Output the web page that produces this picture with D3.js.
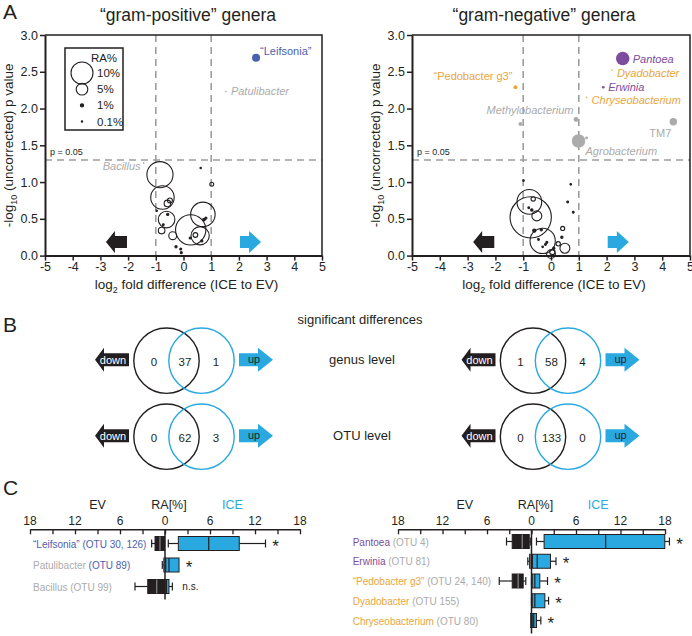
<!DOCTYPE html>
<html><head><meta charset="utf-8">
<script src="https://cdn.jsdelivr.net/npm/d3@7"></script>
<style>
body{margin:0;background:#fff;}
svg text{font-family:"Liberation Sans", Arial, Helvetica, sans-serif;}
</style></head><body>
<svg id="c" width="692" height="636"></svg>
<script>
// ---------------- DATA ----------------
const xTicks = [-5,-4,-3,-2,-1,0,1,2,3,4,5];
const yTicks = [0,0.5,1,1.5,2,2.5,3];
const foldCut = [-1, 1];
const pCut = -Math.log10(0.05);
const legendRA = [10, 5, 1, 0.1];
const legendLabels = ["10%", "5%", "1%", "0.1%"];

// [log2 fold, -log10 p, RA%]
const posBubbles = [
  [-0.85,1.10,12.0],[-0.76,0.79,10.7],[-0.61,0.49,7.4],[0.26,0.35,14.0],[0.70,0.56,11.2],
  [0.60,0.27,8.2],[-0.39,0.27,3.2],[-0.79,0.34,2.6],[-0.58,0.71,2.6],[-0.49,0.75,1.8],
  [0.43,0.28,1.7],[1.02,0.97,1.3],
  [0.62,1.19,0.1],[-0.97,0.61,0.2],[-0.57,0.56,0.5],[-0.73,0.42,0.3],[-0.27,0.12,0.5],
  [-0.10,0.09,0.4],[-0.08,0.04,0.4],[0.74,0.49,0.7],[0.81,0.51,0.4],[0.24,0.24,0.4],[0.66,0.20,0.5]
];
// [name, fold, p, RA, group]
const posHighlights = [
  ["\u201cLeifsonia\u201d", 2.62, 2.69, 3.3, "leif"],
  ["Patulibacter", 1.53, 2.23, 0.2, "gray"],
  ["Bacillus", -1.44, 1.26, 0.3, "gray"]
];
const negBubbles = [
  [-0.78,0.73,11.3],[-0.73,0.52,19.3],[-0.51,0.54,4.2],[-0.30,0.20,11.6],[0.50,0.10,4.2],
  [0.00,0.02,3.6],[0.05,0.05,2.0],[-0.64,0.77,1.5],[0.42,0.37,1.4],[0.26,0.16,1.5],[0.39,0.25,0.5],
  [-0.99,1.02,0.2],[0.71,0.97,0.2],[0.60,0.73,0.3],[0.80,0.59,0.3],[-0.60,0.34,1.0],
  [-0.35,0.35,0.5],[-0.45,0.22,0.3],[-0.20,0.15,0.3],[-0.15,0.18,0.4],[-0.30,0.12,0.2],
  [0.10,0.10,0.5],[-0.80,0.65,0.3],[-0.69,0.62,0.6]
];
const negHighlights = [
  ["Pantoea", 2.58, 2.68, 5.9, "purple"],
  ["Dyadobacter", 2.19, 2.52, 0.1, "orange"],
  ["Erwinia", 1.88, 2.29, 0.7, "purple"],
  ["Chryseobacterium", 1.28, 2.15, 0.1, "orange"],
  ["\u201cPedobacter g3\u201d", -1.28, 2.29, 1.3, "orange"],
  ["", -1.10, 1.79, 1.3, "gray"],
  ["Methylobacterium", 0.90, 1.85, 1.8, "gray"],
  ["Agrobacterium", 0.99, 1.56, 5.9, "gray"],
  ["", 1.28, 1.60, 0.8, "gray"],
  ["TM7", 4.40, 1.82, 3.0, "gray"]
];

const vennLevels = ["genus level", "OTU level"];
const vennPos = [[0,37,1],[0,62,3]];   // [down only, shared, up only]
const vennNeg = [[1,58,4],[0,133,0]];

const cTicks = [-18,-15,-12,-9,-6,-3,0,3,6,9,12,15,18];
const cLabelTicks = [-18,-12,-6,0,6,12,18];
const cPosNames = ["\u201cLeifsonia\u201d", "Patulibacter", "Bacillus"];
const cPosOTU = ["(OTU 30, 126)", "(OTU 89)", "(OTU 99)"];
const cPosNameGroup = ["leif","gray","gray"];
const cPosOtuGroup = ["leif","leif","gray"];
// [whisker lo, q1, median, q3, whisker hi] in RA%
const cPosEV = [[0,0.05,0.67,1.33,1.78],[0,0,0.05,0.15,0.36],[0,0,1.1,2.3,4.0]];
const cPosICE = [[0.44,1.78,5.83,9.9,13.4],[0.05,0.1,0.53,1.87,1.87],[0,0,0.2,0.53,0.98]];
const cPosSig = ["*","*","n.s."];

const cNegNames = ["Pantoea","Erwinia","\u201cPedobacter g3\u201d","Dyadobacter","Chryseobacterium"];
const cNegOTU = ["(OTU 4)","(OTU 81)","(OTU 24, 140)","(OTU 155)","(OTU 80)"];
const cNegNameGroup = ["purple","purple","orange","orange","orange"];
const cNegOtuGroup = ["gray","gray","gray","gray","gray"];
const cNegEV = [[0.1,0.3,1.25,2.6,3.37],[0,0,0.1,0.25,0.5],[0.77,1.12,1.8,2.6,4.35],[0,0,0,0,0],[0,0,0.05,0.13,0.13]];
const cNegICE = [[0.67,1.7,10.0,17.97,18.6],[0.13,0.13,0.77,2.56,3.3],[0,0.1,0.45,1.12,2.16],[0,0.1,0.45,1.8,2.3],[0,0.1,0.3,0.67,1.26]];
const cNegSig = ["*","*","*","*","*"];

// ---------------- STYLE ----------------
const INK="#231f20", BLUE="#29a9e0", LEIF="#4b61ad", PURPLE="#7c4d9e", ORANGE="#eaa53b", GRAY="#ababab", DASH="#9d9d9d";
const groupColor = {leif:LEIF, purple:PURPLE, orange:ORANGE, gray:GRAY};
const labelLayout = {
  "\u201cLeifsonia\u201d": {dx:4, dy:-3, anchor:"start", italic:false},
  "Patulibacter": {dx:5, dy:3, anchor:"start", italic:true},
  "Bacillus": {dx:-3, dy:7, anchor:"end", italic:true},
  "Pantoea": {dx:10, dy:4, anchor:"start", italic:true},
  "Dyadobacter": {dx:5, dy:7, anchor:"start", italic:true},
  "Erwinia": {dx:5, dy:4, anchor:"start", italic:true},
  "Chryseobacterium": {dx:5, dy:6, anchor:"start", italic:true},
  "\u201cPedobacter g3\u201d": {dx:-3, dy:-7, anchor:"end", italic:false},
  "Methylobacterium": {dx:-46, dy:-6, anchor:"middle", italic:true},
  "Agrobacterium": {dx:7, dy:14, anchor:"start", italic:true},
  "TM7": {dx:-2, dy:15, anchor:"end", italic:false}
};
const rScale = d3.scaleLinear().domain([0,10]).range([0.6,11]);
const svg = d3.select("#c");

function arrowPath(tail, tip, cy, bh, hh, hl){
  const dir = Math.sign(tip-tail), base = tip - dir*hl;
  return `M${tail},${cy-bh}L${base},${cy-bh}L${base},${cy-hh}L${tip},${cy}L${base},${cy+hh}L${base},${cy+bh}L${tail},${cy+bh}Z`;
}

// ---------------- PANEL A ----------------
function volcano(o){
  const x = d3.scaleLinear().domain([-5,5]).range(o.xRange);
  const y = d3.scaleLinear().domain([0,3]).range([255.6,35]);
  const g = svg.append("g");
  g.selectAll("line.v").data(foldCut).join("line")
    .attr("x1",d=>x(d)).attr("x2",d=>x(d)).attr("y1",y(3)).attr("y2",y(0))
    .attr("stroke",DASH).attr("stroke-width",1.6).attr("stroke-dasharray","7,5");
  g.append("line").attr("x1",x(-5)).attr("x2",x(5)).attr("y1",y(pCut)).attr("y2",y(pCut))
    .attr("stroke",DASH).attr("stroke-width",1.6).attr("stroke-dasharray","7,5");
  g.append("text").attr("x",x(-5)+5).attr("y",y(pCut)-5).attr("font-size",9).attr("fill",INK).text("p = 0.05");
  g.append("path").attr("d",`M${x(-5)},${y(3)}H${x(5)}V${y(0)}`).attr("fill","none").attr("stroke",INK).attr("stroke-width",1.5);
  const ax = g.append("g").attr("transform",`translate(0,${y(0)})`)
    .call(d3.axisBottom(x).tickValues(xTicks).tickSize(5).tickSizeOuter(0).tickPadding(2).tickFormat(d=>String(d)));
  const ay = g.append("g").attr("transform",`translate(${x(-5)},0)`)
    .call(d3.axisLeft(y).tickValues(yTicks).tickSize(5).tickSizeOuter(0).tickPadding(2).tickFormat(d3.format(".1f")));
  [ax,ay].forEach(a=>{
    a.select(".domain").attr("stroke",INK).attr("stroke-width",2);
    a.selectAll(".tick line").attr("stroke",INK).attr("stroke-width",1.5);
    a.selectAll(".tick text").attr("font-size",12.5).attr("fill",INK);
  });
  // axis titles
  const xt = g.append("text").attr("x",(o.xRange[0]+o.xRange[1])/2+3).attr("y",289).attr("text-anchor","middle").attr("font-size",13.5).attr("fill",INK);
  xt.append("tspan").text("log");
  xt.append("tspan").attr("dy",4).attr("font-size",9).text("2");
  xt.append("tspan").attr("dy",-4).text(" fold difference (ICE to EV)");
  const yt = g.append("text").attr("transform",`translate(${x(-5)-32},${(y(0)+y(3))/2}) rotate(-90)`).attr("text-anchor","middle").attr("font-size",13.5).attr("fill",INK);
  yt.append("tspan").text("-log");
  yt.append("tspan").attr("dy",4).attr("font-size",9).text("10");
  yt.append("tspan").attr("dy",-4).text(" (uncorrected) p value");
  // title
  g.append("text").attr("x",o.titleX).attr("y",21).attr("text-anchor","middle").attr("font-size",17.5).attr("fill",INK).text(o.title);
  // arrows
  g.append("path").attr("d",arrowPath(x(-2.04),x(-2.8),y(0.185),6,11,9)).attr("fill",INK);
  g.append("path").attr("d",arrowPath(x(2.04),x(2.8),y(0.185),6,11,12)).attr("fill",BLUE);
  // bubbles
  g.selectAll("circle.b").data(o.bubbles).join("circle")
    .attr("cx",d=>x(d[0])).attr("cy",d=>y(d[1])).attr("r",d=>rScale(d[2]))
    .attr("fill",d=>rScale(d[2])<1.8?INK:"none").attr("stroke",INK).attr("stroke-width",1.1);
  g.selectAll("circle.h").data(o.highlights).join("circle")
    .attr("cx",d=>x(d[1])).attr("cy",d=>y(d[2])).attr("r",d=>rScale(d[3]))
    .attr("fill",d=>groupColor[d[4]]);
  g.selectAll("text.h").data(o.highlights.filter(d=>d[0])).join("text")
    .attr("x",d=>x(d[1])+labelLayout[d[0]].dx).attr("y",d=>y(d[2])+labelLayout[d[0]].dy)
    .attr("text-anchor",d=>labelLayout[d[0]].anchor)
    .attr("font-style",d=>labelLayout[d[0]].italic?"italic":"normal")
    .attr("font-size",11).attr("fill",d=>groupColor[d[4]]).text(d=>d[0]);
  return g;
}
volcano({xRange:[45,322], bubbles:posBubbles, highlights:posHighlights, title:"\u201cgram-positive\u201d genera", titleX:188});
volcano({xRange:[412,690], bubbles:negBubbles, highlights:negHighlights, title:"\u201cgram-negative\u201d genera", titleX:544});

// legend
const lg = svg.append("g");
lg.append("rect").attr("x",65).attr("y",48).attr("width",58).attr("height",82).attr("fill","#fff").attr("stroke",INK).attr("stroke-width",1.5);
lg.append("text").attr("x",104).attr("y",62).attr("text-anchor","middle").attr("font-size",11.5).attr("fill",INK).text("RA%");
const ly = d3.scalePoint().domain(legendRA).range([73,121.5]);
lg.selectAll("circle").data(legendRA).join("circle").attr("cx",82).attr("cy",d=>ly(d)).attr("r",d=>rScale(d))
  .attr("fill",d=>rScale(d)<1.8?INK:"none").attr("stroke",INK).attr("stroke-width",1.1);
lg.selectAll("text.l").data(legendRA).join("text").attr("x",97).attr("y",d=>ly(d)+4).attr("font-size",11.5).attr("fill",INK).text((d,i)=>legendLabels[i]);

// ---------------- PANEL B ----------------
svg.append("text").attr("x",360).attr("y",323.5).attr("text-anchor","middle").attr("font-size",13).attr("fill",INK).text("significant differences");
const vennY = d3.scalePoint().domain(vennLevels).range([360.7,436.7]);
svg.selectAll("text.lvl").data(vennLevels).join("text").attr("x",362).attr("y",d=>vennY(d)+3).attr("text-anchor","middle").attr("font-size",13).attr("fill",INK).text(d=>d);
function venn(cx, cy, counts){
  const g = svg.append("g");
  g.append("circle").attr("cx",cx-17.5).attr("cy",cy).attr("r",32.7).attr("fill","none").attr("stroke",INK).attr("stroke-width",1.4);
  g.append("circle").attr("cx",cx+17.5).attr("cy",cy).attr("r",32.7).attr("fill","none").attr("stroke",BLUE).attr("stroke-width",1.4);
  g.selectAll("text.n").data(counts).join("text").attr("x",(d,i)=>cx+[-30,1,32][i]).attr("y",cy+5).attr("text-anchor","middle").attr("font-size",11.5).attr("fill",INK).text(d=>d);
  g.append("path").attr("d",arrowPath(cx-55,cx-89,cy-1,6.5,12,9)).attr("fill",INK);
  g.append("text").attr("x",cx-71).attr("y",cy+3).attr("text-anchor","middle").attr("font-size",11).attr("fill","#fff").text("down");
  g.append("path").attr("d",arrowPath(cx+55,cx+89,cy-1,6.5,12,15)).attr("fill",BLUE);
  g.append("text").attr("x",cx+70).attr("y",cy+2).attr("text-anchor","middle").attr("font-size",11).attr("fill",INK).text("up");
}
vennLevels.forEach((lv,i)=>{ venn(184, vennY(lv), vennPos[i]); venn(550.5, vennY(lv), vennNeg[i]); });

// ---------------- PANEL C ----------------
function boxPanel(o){
  const xs = d3.scaleLinear().domain([-18,18]).range(o.range);
  const axisY = 529.3;
  const ys = d3.scalePoint().domain(o.names).range(o.rowRange);
  const g = svg.append("g");
  const ax = g.append("g").attr("transform",`translate(0,${axisY})`)
    .call(d3.axisBottom(xs).tickValues(cTicks).tickSize(5).tickSizeOuter(0).tickFormat(""));
  ax.select(".domain").attr("stroke",INK).attr("stroke-width",1.5);
  ax.selectAll(".tick line").attr("stroke",INK).attr("stroke-width",1.3);
  g.selectAll("text.t").data(cLabelTicks).join("text").attr("x",d=>xs(d)).attr("y",axisY-4.5)
    .attr("text-anchor","middle").attr("font-size",12).attr("fill",INK).text(d=>Math.abs(d));
  g.append("text").attr("x",xs(-9)).attr("y",508.5).attr("text-anchor","middle").attr("font-size",12.5).attr("fill",INK).text("EV");
  g.append("text").attr("x",xs(0)+4).attr("y",508.5).attr("text-anchor","middle").attr("font-size",12.5).attr("fill",INK).text("RA[%]");
  g.append("text").attr("x",xs(9)).attr("y",508.5).attr("text-anchor","middle").attr("font-size",12.5).attr("fill",BLUE).text("ICE");
  const last = o.rowRange[1];
  const bh = 14, cap = 8;
  function drawBox(stats, sign, fill, medColor, cy){
    const [lo,q1,md,q3,hi] = stats.map(v=>xs(sign*v));
    if (Math.abs(q3-q1) < 0.1 && Math.abs(hi-lo) < 0.1) return;
    const wl = [[q1,lo],[q3,hi]];
    wl.forEach(([a,b])=>{
      if (Math.abs(b-a) < 0.5) return;
      g.append("line").attr("x1",a).attr("x2",b).attr("y1",cy).attr("y2",cy).attr("stroke",INK).attr("stroke-width",1.2);
      g.append("line").attr("x1",b).attr("x2",b).attr("y1",cy-cap/2).attr("y2",cy+cap/2).attr("stroke",INK).attr("stroke-width",1.2);
    });
    g.append("rect").attr("x",Math.min(q1,q3)).attr("y",cy-bh/2).attr("width",Math.abs(q3-q1)).attr("height",bh)
      .attr("fill",fill).attr("stroke",INK).attr("stroke-width",1);
    g.append("line").attr("x1",md).attr("x2",md).attr("y1",cy-bh/2).attr("y2",cy+bh/2).attr("stroke",medColor).attr("stroke-width",1.2);
  }
  o.names.forEach((n,i)=>{
    const cy = ys(n);
    drawBox(o.ev[i], -1, INK, "#8a8a8a", cy);
    drawBox(o.ice[i], 1, BLUE, INK, cy);
    const t = g.append("text").attr("x",o.labelX).attr("y",cy+4).attr("font-size",10);
    t.append("tspan").attr("fill",groupColor[o.nameGroup[i]]).text(n);
    t.append("tspan").attr("fill",groupColor[o.otuGroup[i]]).text(" "+o.otu[i]);
    const sx = xs(Math.max(o.ice[i][4], o.ice[i][3])) + 10;
    const isStar = o.sig[i] === "*";
    g.append("text").attr("x",sx).attr("y",cy+(isStar?8:3)).attr("text-anchor",isStar?"middle":"start")
      .attr("font-size",isStar?17:10).attr("fill",INK).text(o.sig[i]);
  });
  g.append("line").attr("x1",xs(0)).attr("x2",xs(0)).attr("y1",axisY).attr("y2",last+13).attr("stroke",INK).attr("stroke-width",1.5);
}
boxPanel({range:[30,300], names:cPosNames, otu:cPosOTU, nameGroup:cPosNameGroup, otuGroup:cPosOtuGroup, ev:cPosEV, ice:cPosICE, sig:cPosSig, rowRange:[543.5,586.5], labelX:33});
boxPanel({range:[398,665], names:cNegNames, otu:cNegOTU, nameGroup:cNegNameGroup, otuGroup:cNegOtuGroup, ev:cNegEV, ice:cNegICE, sig:cNegSig, rowRange:[541.5,620.5], labelX:352.7});

// panel letters
svg.selectAll("text.pl").data([["A",19],["B",332],["C",495]]).join("text")
  .attr("x",3).attr("y",d=>d[1]).attr("font-size",21).attr("fill",INK).text(d=>d[0]);
</script></body></html>
